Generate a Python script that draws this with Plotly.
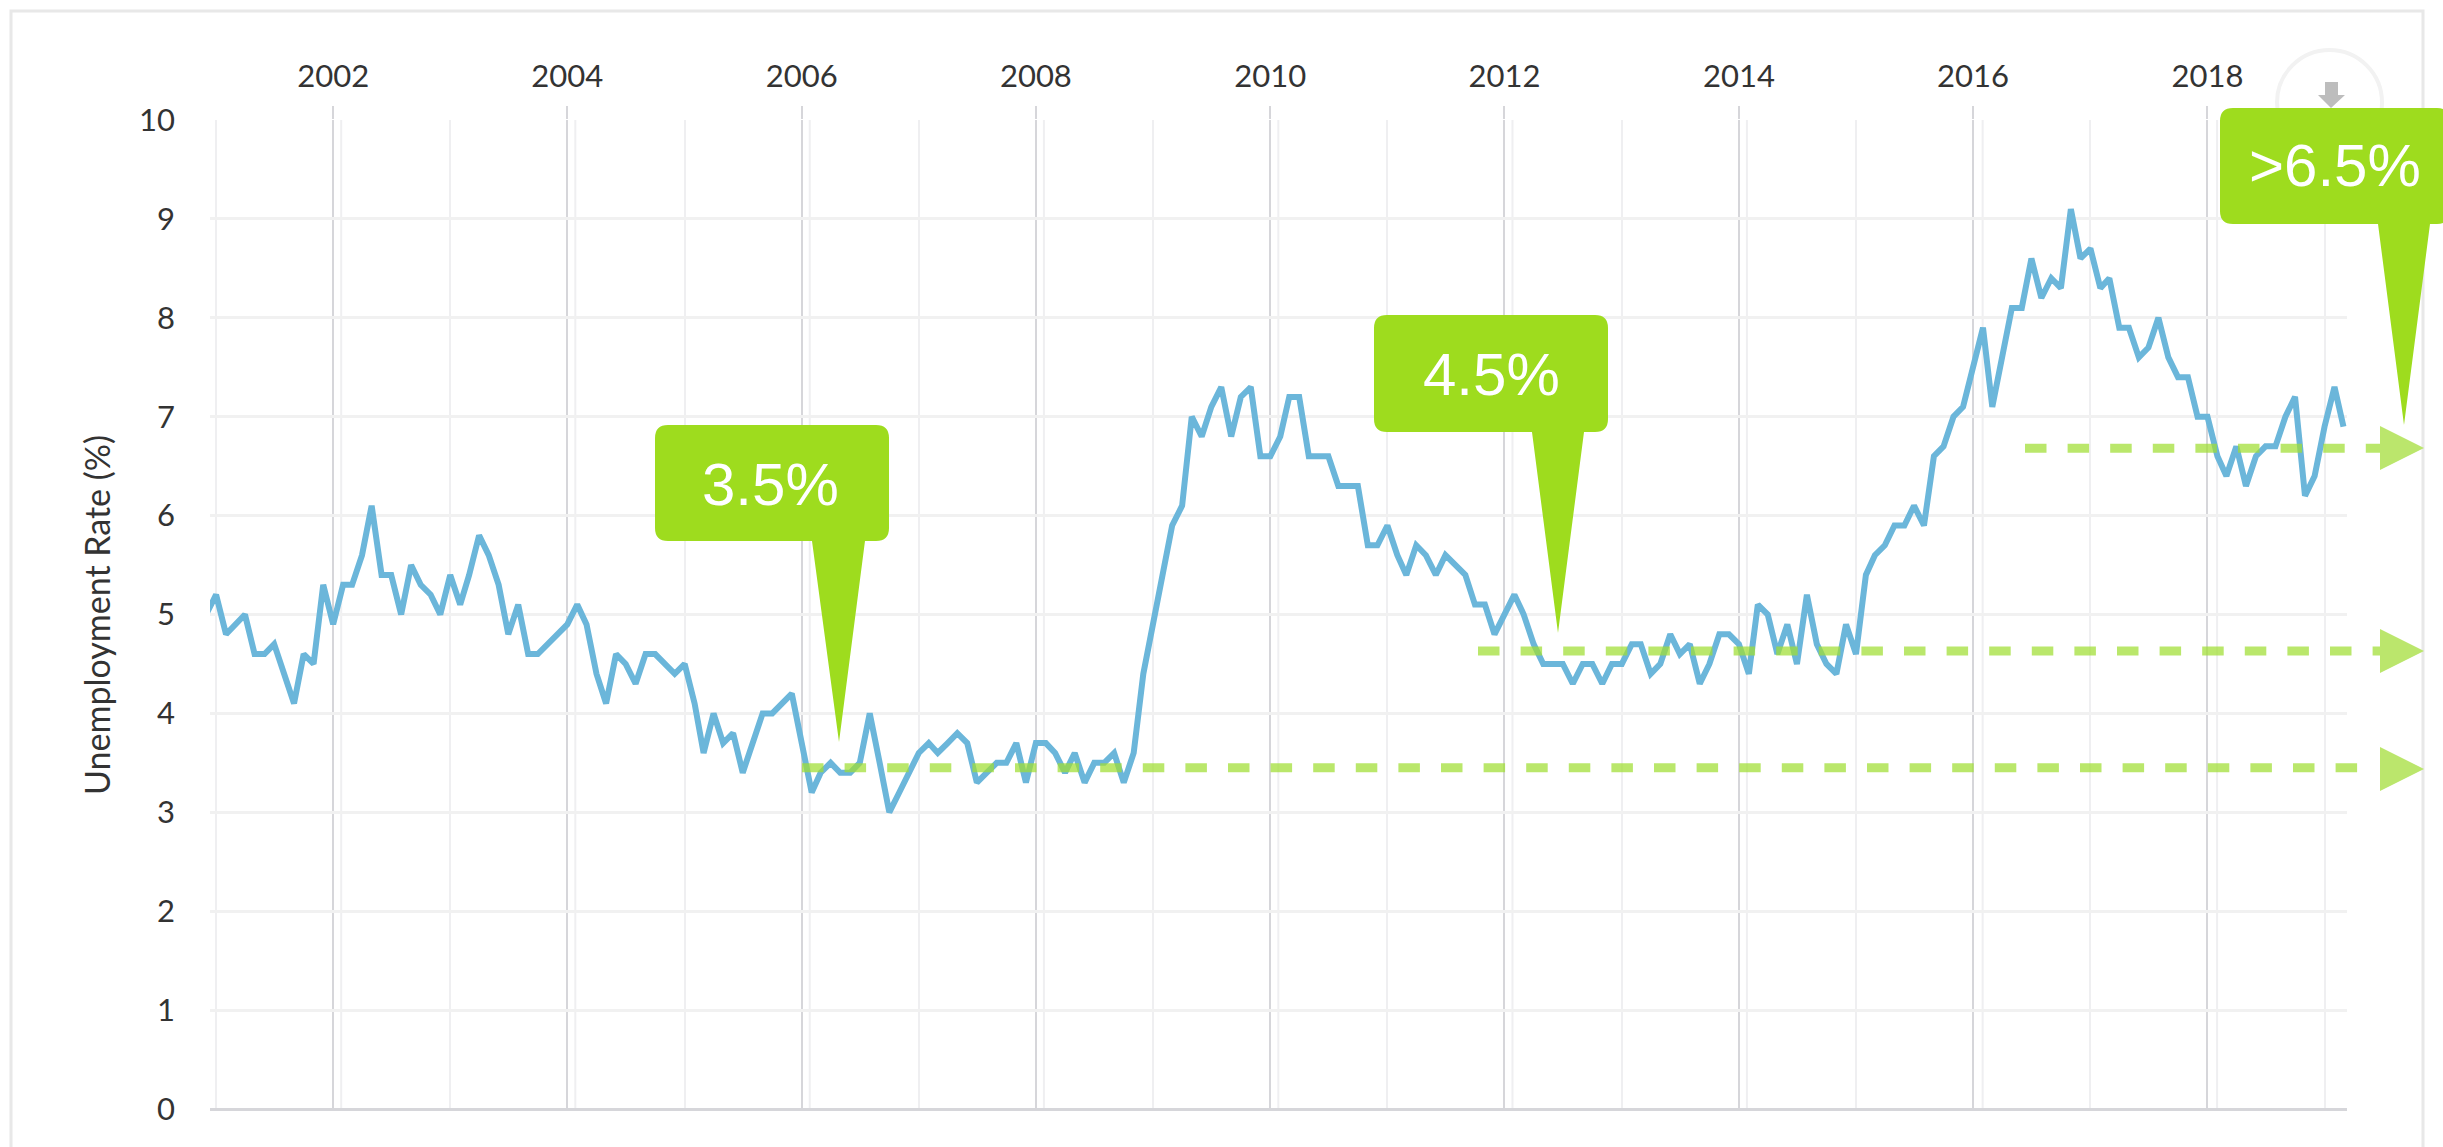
import plotly.graph_objects as go

# ---- data -----------------------------------------------------------------
v2000 = [5.0]
v2001 = [5.2, 4.8, 4.9, 5.0, 4.6, 4.6, 4.7, 4.4, 4.1, 4.6, 4.5, 5.3]
v2002 = [4.9, 5.3, 5.3, 5.6, 6.1, 5.4, 5.4, 5.0, 5.5, 5.3, 5.2, 5.0]
v2003 = [5.4, 5.1, 5.4, 5.8, 5.6, 5.3, 4.8, 5.1, 4.6, 4.6, 4.7, 4.8]
v2004 = [4.9, 5.1, 4.9, 4.4, 4.1, 4.6, 4.5, 4.3, 4.6, 4.6, 4.5, 4.4]
v2005 = [4.5, 4.1, 3.6, 4.0, 3.7, 3.8, 3.4, 3.7, 4.0, 4.0, 4.1, 4.2]
v2006 = [3.7, 3.2, 3.4, 3.5, 3.4, 3.4, 3.5, 4.0, 3.5, 3.0, 3.2, 3.4]
v2007 = [3.6, 3.7, 3.6, 3.7, 3.8, 3.7, 3.3, 3.4, 3.5, 3.5, 3.7, 3.3]
v2008 = [3.7, 3.7, 3.6, 3.4, 3.6, 3.3, 3.5, 3.5, 3.6, 3.3, 3.6, 4.4]
v2009 = [4.9, 5.4, 5.9, 6.1, 7.0, 6.8, 7.1, 7.3, 6.8, 7.2, 7.3, 6.6]
v2010 = [6.6, 6.8, 7.2, 7.2, 6.6, 6.6, 6.6, 6.3, 6.3, 6.3, 5.7, 5.7]
v2011 = [5.9, 5.6, 5.4, 5.7, 5.6, 5.4, 5.6, 5.5, 5.4, 5.1, 5.1, 4.8]
v2012 = [5.0, 5.2, 5.0, 4.7, 4.5, 4.5, 4.5, 4.3, 4.5, 4.5, 4.3, 4.5]
v2013 = [4.5, 4.7, 4.7, 4.4, 4.5, 4.8, 4.6, 4.7, 4.3, 4.5, 4.8, 4.8]
v2014 = [4.7, 4.4, 5.1, 5.0, 4.6, 4.9, 4.5, 5.2, 4.7, 4.5, 4.4, 4.9]
v2015 = [4.6, 5.4, 5.6, 5.7, 5.9, 5.9, 6.1, 5.9, 6.6, 6.7, 7.0, 7.1]
v2016 = [7.5, 7.9, 7.1, 7.6, 8.1, 8.1, 8.6, 8.2, 8.4, 8.3, 9.1, 8.6]
v2017 = [8.7, 8.3, 8.4, 7.9, 7.9, 7.6, 7.7, 8.0, 7.6, 7.4, 7.4, 7.0]
v2018 = [7.0, 6.6, 6.4, 6.7, 6.3, 6.6, 6.7, 6.7, 7.0, 7.2, 6.2, 6.4]
v2019 = [6.9, 7.3, 6.9]

years = {2000: v2000, 2001: v2001, 2002: v2002, 2003: v2003, 2004: v2004, 2005: v2005,
         2006: v2006, 2007: v2007, 2008: v2008, 2009: v2009, 2010: v2010, 2011: v2011,
         2012: v2012, 2013: v2013, 2014: v2014, 2015: v2015, 2016: v2016, 2017: v2017,
         2018: v2018, 2019: v2019}

dates, rates = [], []
for yr, vals in years.items():
    first = 12 if yr == 2000 else 1
    for k, val in enumerate(vals):
        dates.append(f"{yr}-{first + k:02d}-01")
        rates.append(val)

threshold_values = [3.45, 4.63, 6.68]
callout_labels = ["3.5%", "4.5%", ">6.5%"]
y_title = "Unemployment Rate (%)"
even_years = list(range(2002, 2019, 2))

# ---- page geometry --------------------------------------------------------
W, H = 2443, 1147
L, R, T, B = 210, 2347, 120, 1109


def px(x):
    return (x - L) / (R - L)


def py(y):
    return (B - y) / (B - T)


def path(points):
    return "M" + " L".join(f"{px(x):.5f},{py(y):.5f}" for x, y in points) + " Z"


def callout(x0, x1, y0, y1, t0, t1, tx, ty, r=13):
    def f(x, y):
        return f"{px(x):.5f},{py(y):.5f}"
    return (f"M{f(x0 + r, y0)} L{f(x1 - r, y0)} Q{f(x1, y0)} {f(x1, y0 + r)} "
            f"L{f(x1, y1 - r)} Q{f(x1, y1)} {f(x1 - r, y1)} L{f(t1, y1)} L{f(tx, ty)} L{f(t0, y1)} "
            f"L{f(x0 + r, y1)} Q{f(x0, y1)} {f(x0, y1 - r)} L{f(x0, y0 + r)} Q{f(x0, y0)} {f(x0 + r, y0)} Z")


PAPER = dict(xref="paper", yref="paper")
DARK = "#d6d6da"
PALE = "#efeff1"
GREEN = "#9edc1e"
DASH = "rgba(160,222,50,0.72)"

shapes = []
# outer frame and download button
shapes.append(dict(type="rect", **PAPER, x0=px(11), x1=px(2423), y0=py(11), y1=py(1175),
                   line=dict(color="#e8e8e8", width=3), layer="below"))
shapes.append(dict(type="circle", **PAPER, x0=px(2277), x1=px(2382), y0=py(50), y1=py(155),
                   line=dict(color="#f2f2f2", width=4), layer="below"))
shapes.append(dict(type="path", **PAPER, layer="below", fillcolor="#bdbdbd", line=dict(width=0),
                   path=path([(2325, 82), (2338, 82), (2338, 95), (2345, 95), (2331, 108),
                              (2318, 95), (2325, 95)])))
# pale companions just right of each even-year line
for yr in even_years:
    d = f"{yr}-01-{26 if yr < 2016 else 31}"
    shapes.append(dict(type="line", xref="x", yref="paper", x0=d, x1=d, y0=0, y1=1,
                       line=dict(color=PALE, width=2), layer="below"))
# threshold lines
starts = [802, 1478, 2025]
ends = [2362, 2380, 2380]
for v, x0, x1 in zip(threshold_values, starts, ends):
    shapes.append(dict(type="line", xref="paper", yref="y", x0=px(x0), x1=px(x1), y0=v, y1=v,
                       line=dict(color=DASH, width=9, dash="21.5px,21.1px")))
for yc in (769, 651, 448):
    shapes.append(dict(type="path", **PAPER, fillcolor="#bbe66c", line=dict(width=0),
                       path=path([(2380, yc - 22), (2424, yc), (2380, yc + 22)])))
# callouts
boxes = [(655, 889, 425, 541, 812, 865, 839, 742),
         (1374, 1608, 315, 432, 1532, 1584, 1558, 633),
         (2220, 2450, 108, 224, 2378, 2430, 2404, 425)]
for b in boxes:
    shapes.append(dict(type="path", **PAPER, fillcolor=GREEN, line=dict(width=0), path=callout(*b)))

centres = [(770, 484), (1491, 374), (2335, 166)]
annotations = [dict(**PAPER, x=px(cx), y=py(cy), text=t, showarrow=False, xanchor="center", yanchor="middle",
                    font=dict(family="Liberation Sans", size=60, color="white"))
               for (cx, cy), t in zip(centres, callout_labels)]
annotations.append(dict(**PAPER, x=px(96), y=py(615), text=y_title, textangle=-90, showarrow=False,
                        xanchor="center", yanchor="middle",
                        font=dict(family="Lato", size=34, color="#333333")))

fig = go.Figure(go.Scatter(x=dates, y=rates, mode="lines",
                           line=dict(color="#6bb6da", width=6), hoverinfo="skip"))
fig.update_layout(
    width=W, height=H, autosize=False, showlegend=False,
    paper_bgcolor="white", plot_bgcolor="white",
    margin=dict(l=L, r=W - R, t=T, b=H - B, pad=0),
    font=dict(family="Lato", size=31, color="#333333"),
    shapes=shapes, annotations=annotations,
    xaxis=dict(type="date", side="top", range=["2000-12-13", "2019-03-12"],
               tick0="2002-01-01", dtick="M24", tickformat="%Y",
               ticks="outside", ticklen=13, tickwidth=2, tickcolor=DARK,
               showgrid=True, gridcolor=DARK, gridwidth=2,
               minor=dict(tick0="2001-01-01", dtick="M24", showgrid=True, gridcolor=PALE, gridwidth=2, ticks=""),
               showline=False, zeroline=False, ticklabelstandoff=7,
               tickfont=dict(family="Lato", size=31, color="#333333")),
    yaxis=dict(range=[0, 10], tick0=0, dtick=1, showgrid=True, gridcolor="#f1f1f1", gridwidth=3,
               zeroline=True, zerolinecolor="#d6d6da", zerolinewidth=3, showline=False,
               ticks="", ticklabelstandoff=34,
               tickfont=dict(family="Lato", size=31, color="#333333")),
)

fig.write_html("out.html", config=dict(displayModeBar=False),
               post_script="document.body.style.margin='0';document.body.style.overflow='hidden';")
